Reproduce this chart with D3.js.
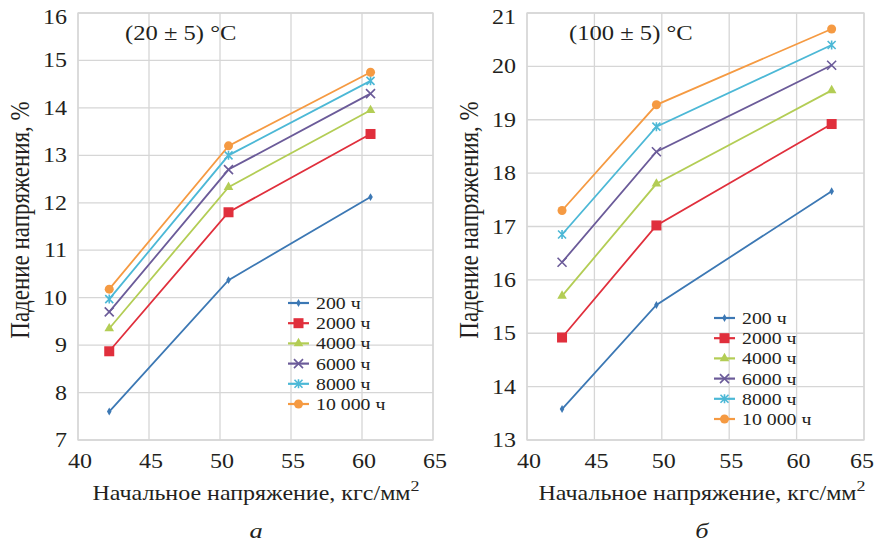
<!DOCTYPE html>
<html lang="en">
<head>
<meta charset="utf-8">
<title>Падение напряжения</title>
<script src="https://cdn.jsdelivr.net/npm/d3@7"></script>
<style>
body { margin: 0; background: #fff; }
svg { display: block; }
svg text { font-family: "Liberation Serif", "Times New Roman", serif; fill: #231f20; }
.grid line { stroke: #d6d6d6; stroke-width: 1.3; }
.frame { fill: none; stroke: #d6d6d6; stroke-width: 1.3; }
</style>
</head>
<body>
<svg width="875" height="545"></svg>
<script>
// series names and colours
var seriesNames = ["200 ч", "2000 ч", "4000 ч", "6000 ч", "8000 ч", "10 000 ч"];
var seriesColors = ["#3c78b4", "#e02f3c", "#b3cd55", "#6b5b99", "#4cb8d6", "#f59a42"];
var seriesMarkers = ["diamond", "square", "triangle", "cross", "star", "circle"];

// panel a: (20 ± 5) °C
var xA = [42.2, 50.6, 60.6];
var valuesA = [
  [7.6, 10.37, 12.12],
  [8.87, 11.8, 13.45],
  [9.35, 12.33, 13.95],
  [9.7, 12.7, 14.3],
  [9.97, 13.0, 14.57],
  [10.18, 13.2, 14.75]
];

// panel б: (100 ± 5) °C
var xB = [42.6, 49.6, 62.6];
var valuesB = [
  [13.58, 15.53, 17.66],
  [14.92, 17.02, 18.92],
  [15.7, 17.8, 19.55],
  [16.33, 18.4, 20.02],
  [16.85, 18.87, 20.4],
  [17.3, 19.28, 20.7]
];

var xTicks = [40, 45, 50, 55, 60, 65];
var yTicksA = [7, 8, 9, 10, 11, 12, 13, 14, 15, 16];
var yTicksB = [13, 14, 15, 16, 17, 18, 19, 20, 21];

var SX = 1.2; // the scanned figure is stretched sideways a little
var FONT = '"Liberation Serif", "Times New Roman", serif';

var svg = d3.select("svg");

// text helper: places text at x,y, stretched horizontally like the original
function txt(parent, x, y, size, s, anchor, rot) {
  var g = parent.append("g")
    .attr("transform", "translate(" + x + "," + y + ") scale(" + SX + ",1)" + (rot ? " rotate(" + rot + ")" : ""));
  return g.append("text").attr("text-anchor", anchor || "start")
    .attr("font-size", size).style("font-family", FONT).text(s);
}

function marker(g, type, color) {
  if (type == "diamond") {
    g.append("path").attr("d", d3.symbol(d3.symbolDiamond, 18)()).attr("fill", color);
  } else if (type == "square") {
    g.append("rect").attr("x", -5).attr("y", -5).attr("width", 10).attr("height", 10).attr("fill", color);
  } else if (type == "triangle") {
    g.append("path").attr("d", d3.symbol(d3.symbolTriangle, 40)()).attr("fill", color);
  } else if (type == "cross") {
    g.append("path").attr("d", "M-4.5,-4.5L4.5,4.5M-4.5,4.5L4.5,-4.5").attr("stroke", color).attr("stroke-width", 1.6);
  } else if (type == "star") {
    g.append("path").attr("d", "M-4,-4L4,4M-4,4L4,-4M0,-4.5L0,4.5").attr("stroke", color).attr("stroke-width", 1.6);
  } else {
    g.append("circle").attr("r", 4.5).attr("fill", color);
  }
}

function panel(o) {
  var g = svg.append("g");
  var x = d3.scaleLinear().domain([40, 65]).range(o.xr);
  var y = d3.scaleLinear().domain(o.yd).range(o.yr);

  // grid
  var grid = g.append("g").attr("class", "grid");
  grid.selectAll("line.v").data(xTicks).enter().append("line")
    .attr("x1", d => x(d)).attr("x2", d => x(d))
    .attr("y1", o.yr[0]).attr("y2", o.yr[1]);
  grid.selectAll("line.h").data(o.yt).enter().append("line")
    .attr("x1", o.xr[0]).attr("x2", o.xr[1])
    .attr("y1", d => y(d)).attr("y2", d => y(d));
  g.append("rect").attr("class", "frame")
    .attr("x", o.xr[0]).attr("y", o.yr[1])
    .attr("width", o.xr[1] - o.xr[0]).attr("height", o.yr[0] - o.yr[1]);

  // tick labels, from the scales
  xTicks.forEach(function(t) {
    // the last label would run off the page on the right panel
    if (o.lastEnd && t == 65) txt(g, 874, o.yr[0] + 28, 20, t, "end");
    else txt(g, x(t) + 2, o.yr[0] + 28, 20, t, "middle");
  });
  o.yt.forEach(function(t) {
    var yy = y(t) + 7 + (t == o.yd[1] ? 4 : 0);
    txt(g, o.xr[0] - 11, yy, 20, t, "end");
  });

  // lines
  var line = d3.line().x((d, i) => x(o.xs[i])).y(d => y(d));
  o.vals.forEach(function(v, k) {
    g.append("path").attr("d", line(v)).attr("fill", "none")
      .attr("stroke", seriesColors[k]).attr("stroke-width", 1.8);
    v.forEach(function(d, i) {
      var m = g.append("g").attr("transform", "translate(" + x(o.xs[i]) + "," + y(d) + ")");
      marker(m, seriesMarkers[k], seriesColors[k]);
    });
  });

  // legend
  var lg = g.append("g").attr("transform", "translate(" + o.leg[0] + "," + o.leg[1] + ")");
  seriesNames.forEach(function(n, k) {
    var r = lg.append("g").attr("transform", "translate(0," + (k * 20.2) + ")");
    r.append("line").attr("x1", 0).attr("x2", 21).attr("stroke", seriesColors[k]).attr("stroke-width", 2.2);
    marker(r.append("g").attr("transform", "translate(10.5,0)"), seriesMarkers[k], seriesColors[k]);
    txt(r, 28, 6, 16.5, n);
  });

  // titles
  txt(g, o.tt[0], o.tt[1], 20.5, o.title);
  txt(g, o.yl, 220, 23, "Падение напряжения, %", "middle", -90);
  var xl = txt(g, o.xc, 500, 20, "Начальное напряжение, кгс/мм", "middle");
  xl.append("tspan").attr("dy", -9).attr("font-size", 15).text("2");
  txt(g, o.xc, 538, 22, o.letter, "middle").attr("font-style", "italic");
}

panel({ xr: [78, 433], yr: [440, 13], yd: [7, 16], yt: yTicksA, xs: xA, vals: valuesA,
  leg: [288, 303], tt: [125, 40], title: "(20 ± 5) °C", yl: 29, xc: 256, letter: "а" });
panel({ xr: [527, 864], yr: [440, 13], yd: [13, 21], yt: yTicksB, xs: xB, vals: valuesB,
  leg: [714, 318], tt: [569, 40], title: "(100 ± 5) °C", yl: 478, xc: 702, letter: "б", lastEnd: true });
</script>
</body>
</html>
